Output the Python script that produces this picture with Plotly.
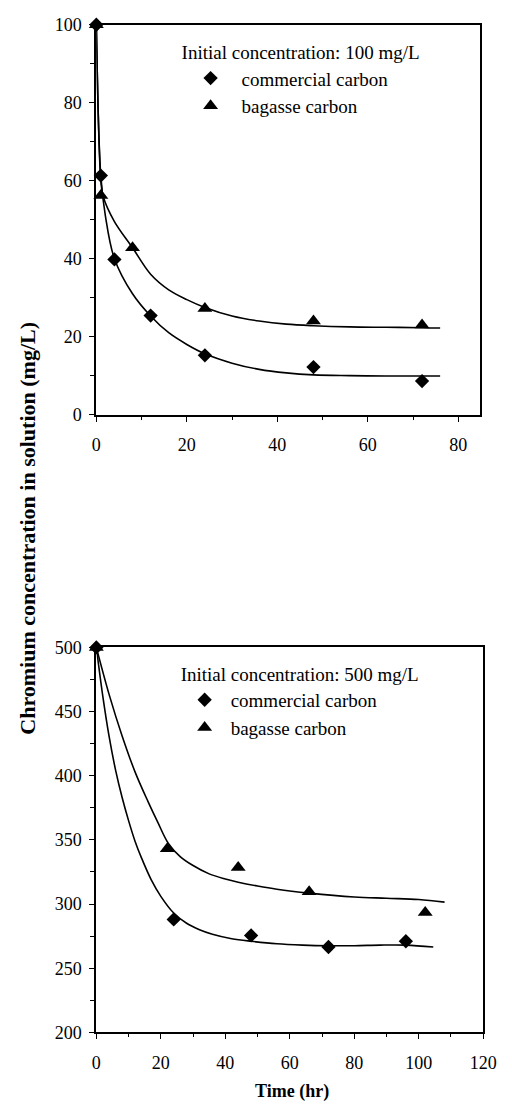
import plotly.graph_objects as go

# ---------------- data: 100 mg/L ----------------
t100_comm = [0, 1, 4, 12, 24, 48, 72]
c100_comm = [100, 61.3, 39.8, 25.4, 15.2, 12.2, 8.6]
t100_bag = [0, 1, 8, 24, 48, 72]
c100_bag = [100, 56.2, 42.8, 27.2, 24.0, 23.0]

# fitted curves
fit100_comm_t = [0, 1, 2, 4, 8, 12, 16, 20, 24, 30, 36, 42, 48, 56, 64, 72, 76]
fit100_comm_c = [100, 61, 51, 40, 31, 25.3, 21, 18, 15.6, 13.2, 11.6, 10.7, 10.2, 10.0, 9.9, 9.9, 9.9]
fit100_bag_t = [0, 1, 1.5, 4, 8, 12, 16, 20, 24, 30, 36, 42, 48, 56, 64, 72, 76]
fit100_bag_c = [100, 60, 56, 49.5, 42.8, 36, 32, 29.5, 27.5, 25.3, 24, 23.2, 22.8, 22.5, 22.4, 22.3, 22.2]

# ---------------- data: 500 mg/L ----------------
t500_comm = [0, 24, 48, 72, 96]
c500_comm = [500, 288, 275.5, 266.5, 271]
t500_bag = [0, 22, 44, 66, 102]
c500_bag = [500, 343, 328.5, 309.5, 293.5]

fit500_comm_t = [0, 2, 4, 6, 8, 10, 12, 14, 17, 20, 24, 28, 32, 36, 42, 48, 56, 64, 72, 80, 88, 96, 104.5]
fit500_comm_c = [500, 462, 430, 404, 383, 365, 349, 336, 319, 306, 293, 285, 280, 276.5, 273, 271, 269, 268, 267.5, 267.5, 268, 268, 266.5]
fit500_bag_t = [0, 4, 8, 12, 16, 19, 22.4, 26, 30, 35, 40, 44, 50, 56, 66, 80, 90, 100, 108]
fit500_bag_c = [500, 463, 431, 403, 380, 364, 347, 337, 330, 323.5, 319.5, 317, 314, 311.5, 308.5, 305.5, 304.5, 303.5, 301.5]

x100_ticks = [0, 20, 40, 60, 80]
y100_ticks = [0, 20, 40, 60, 80, 100]
x500_ticks = [0, 20, 40, 60, 80, 100, 120]
y500_ticks = [200, 250, 300, 350, 400, 450, 500]

FONT = "Liberation Serif"
W, H = 512, 1117

fig = go.Figure()

line_style = dict(color="black", width=1.6)

# top panel
fig.add_trace(go.Scatter(x=fit100_comm_t, y=fit100_comm_c, mode="lines", line=line_style,
                         line_shape="spline", showlegend=False, xaxis="x", yaxis="y", cliponaxis=False))
fig.add_trace(go.Scatter(x=fit100_bag_t, y=fit100_bag_c, mode="lines", line=line_style,
                         line_shape="spline", showlegend=False, xaxis="x", yaxis="y", cliponaxis=False))
fig.add_trace(go.Scatter(x=t100_comm, y=c100_comm, mode="markers", name="commercial carbon",
                         marker=dict(symbol="diamond", size=11, color="black"),
                         xaxis="x", yaxis="y", legend="legend", cliponaxis=False))
fig.add_trace(go.Scatter(x=t100_bag, y=c100_bag, mode="markers", name="bagasse carbon",
                         marker=dict(symbol="triangle-up", size=13, color="black"),
                         xaxis="x", yaxis="y", legend="legend", cliponaxis=False))

# bottom panel
fig.add_trace(go.Scatter(x=fit500_comm_t, y=fit500_comm_c, mode="lines", line=line_style,
                         line_shape="spline", showlegend=False, xaxis="x2", yaxis="y2", cliponaxis=False))
fig.add_trace(go.Scatter(x=fit500_bag_t, y=fit500_bag_c, mode="lines", line=line_style,
                         line_shape="spline", showlegend=False, xaxis="x2", yaxis="y2", cliponaxis=False))
fig.add_trace(go.Scatter(x=t500_comm, y=c500_comm, mode="markers", name="commercial carbon",
                         marker=dict(symbol="diamond", size=11, color="black"),
                         xaxis="x2", yaxis="y2", legend="legend2", cliponaxis=False))
fig.add_trace(go.Scatter(x=t500_bag, y=c500_bag, mode="markers", name="bagasse carbon",
                         marker=dict(symbol="triangle-up", size=13, color="black"),
                         xaxis="x2", yaxis="y2", legend="legend2", cliponaxis=False))

tickfont = dict(family=FONT, size=18, color="black")

def axis_common():
    return dict(showline=True, linecolor="black", linewidth=1.8, mirror=True,
                showgrid=False, zeroline=False, ticks="outside", ticklen=5,
                tickwidth=1.2, tickcolor="black", tickfont=tickfont)

def px_x(p):
    return p / W

def px_y(p):
    return 1 - p / H

xa = axis_common()
xa.update(domain=[px_x(95.7), px_x(493.3)], range=[0, 84.8], tickvals=x100_ticks,
          anchor="y", ticklabelstandoff=8,
          minor=dict(dtick=10, ticks="outside", ticklen=3, tickcolor="black"))
ya = axis_common()
ya.update(domain=[px_y(412), px_y(15)], range=[0, 100], tickvals=y100_ticks, anchor="x",
          ticklabelstandoff=4,
          minor=dict(dtick=10, ticks="outside", ticklen=4, tickcolor="black"))
xa2 = axis_common()
xa2.update(domain=[px_x(95.7), px_x(496.7)], range=[0, 120], tickvals=x500_ticks,
           anchor="y2", ticklabelstandoff=8,
           minor=dict(dtick=10, ticks="outside", ticklen=3, tickcolor="black"))
ya2 = axis_common()
ya2.update(domain=[px_y(1041), px_y(649)], range=[200, 500], tickvals=y500_ticks, anchor="x2",
           ticklabelstandoff=4,
           minor=dict(dtick=25, ticks="outside", ticklen=4, tickcolor="black"))

legfont = dict(family=FONT, size=19, color="black")

fig.update_layout(
    width=W, height=H,
    margin=dict(l=0, r=0, t=0, b=0),
    paper_bgcolor="white", plot_bgcolor="white",
    xaxis=xa, yaxis=ya, xaxis2=xa2, yaxis2=ya2,
    legend=dict(x=px_x(182), y=px_y(25), xanchor="left", yanchor="top",
                title=dict(text="Initial concentration: 100 mg/L", font=legfont),
                font=legfont, bgcolor="rgba(0,0,0,0)", borderwidth=0,
                itemwidth=52, tracegroupgap=0),
    legend2=dict(x=px_x(181), y=px_y(658), xanchor="left", yanchor="top",
                 title=dict(text="Initial concentration: 500 mg/L", font=legfont),
                 font=legfont, bgcolor="rgba(0,0,0,0)", borderwidth=0,
                 itemwidth=42, tracegroupgap=0),
    annotations=[
        dict(text="<b>Chromium concentration in solution (mg/L)</b>", textangle=-90,
             x=px_x(24), y=px_y(528), xref="paper", yref="paper", showarrow=False,
             xanchor="center", yanchor="middle",
             font=dict(family=FONT, size=22, color="black")),
        dict(text="<b>Time (hr)</b>", x=px_x(298), y=px_y(1101), xref="paper", yref="paper",
             showarrow=False, xanchor="center", yanchor="middle",
             font=dict(family=FONT, size=18, color="black")),
    ],
)

fig.write_html("out.html")
